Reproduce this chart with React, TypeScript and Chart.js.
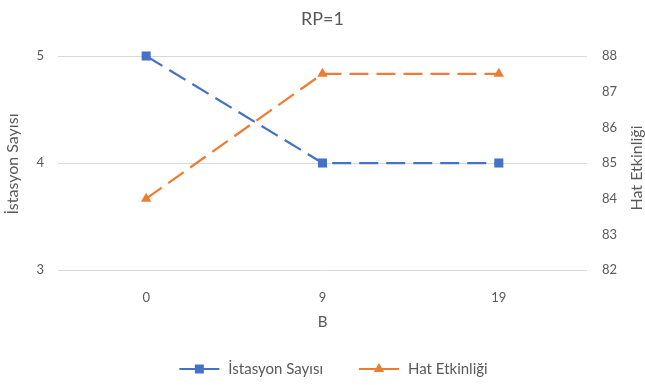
import { useEffect, useRef } from "react";
import { Chart, registerables } from "chart.js";

Chart.register(...registerables);

// Data
const categories = ["0", "9", "19"];
const stationCounts = [5, 4, 4];
const lineEfficiency = [84, 87.5, 87.5];

// Axis ranges
const leftRange = [3, 5];
const rightRange = [82, 88];

// Texts
const chartTitle = "RP=1";
const xTitle = "B";
const leftTitle = "İstasyon Sayısı";
const rightTitle = "Hat Etkinliği";
const seriesNames = ["İstasyon Sayısı", "Hat Etkinliği"];

const FONT = "Lato, 'Open Sans', sans-serif";
const TEXT = "#595959";
const BLUE = "#4472C4";
const ORANGE = "#ED7D31";

function drawMarker(ctx: CanvasRenderingContext2D, style: string, x: number, y: number, color: string) {
  ctx.fillStyle = color;
  ctx.beginPath();
  if (style === "rect") {
    ctx.rect(x - 4.5, y - 4.5, 9, 9);
  } else {
    const r = 6;
    ctx.moveTo(x, y - r);
    ctx.lineTo(x + r * 0.866, y + r * 0.5);
    ctx.lineTo(x - r * 0.866, y + r * 0.5);
    ctx.closePath();
  }
  ctx.fill();
}

const decorations = {
  id: "decorations",
  afterDraw(chart: any) {
    const ctx: CanvasRenderingContext2D = chart.ctx;
    const area = chart.chartArea;
    const midY = (area.top + area.bottom) / 2;
    ctx.save();
    ctx.fillStyle = TEXT;
    ctx.textAlign = "center";
    ctx.textBaseline = "middle";

    ctx.font = `18px ${FONT}`;
    ctx.fillText(chartTitle, chart.width / 2, 19);

    ctx.font = `15px ${FONT}`;
    ctx.fillText(xTitle, (area.left + area.right) / 2, 322);

    ctx.font = `16px ${FONT}`;
    ctx.save();
    ctx.translate(13, midY + 1);
    ctx.rotate(-Math.PI / 2);
    ctx.fillText(leftTitle, 0, 0);
    ctx.restore();

    ctx.save();
    ctx.translate(637, midY + 5);
    ctx.rotate(-Math.PI / 2);
    ctx.fillText(rightTitle, 0, 0);
    ctx.restore();

    // Legend
    ctx.font = `15px ${FONT}`;
    const lineLen = 40;
    const textGap = 9;
    const itemGap = 36;
    const datasets = chart.data.datasets;
    const widths = datasets.map((d: any) => lineLen + textGap + ctx.measureText(d.label).width);
    const total = widths.reduce((a: number, b: number) => a + b, 0) + itemGap * (datasets.length - 1);
    let x = chart.width / 2 - total / 2 + 11;
    const y = 369;
    datasets.forEach((d: any, i: number) => {
      ctx.strokeStyle = d.borderColor;
      ctx.lineWidth = 2;
      ctx.setLineDash([]);
      ctx.beginPath();
      ctx.moveTo(x, y);
      ctx.lineTo(x + lineLen, y);
      ctx.stroke();
      drawMarker(ctx, d.pointStyle, x + lineLen / 2, y, d.borderColor);
      ctx.fillStyle = TEXT;
      ctx.textAlign = "left";
      ctx.fillText(d.label, x + lineLen + textGap, y);
      x += widths[i] + itemGap;
    });
    ctx.restore();
  },
};

export default function App() {
  const canvasRef = useRef<HTMLCanvasElement | null>(null);

  useEffect(() => {
    if (!canvasRef.current) return;
    const chart = new Chart(canvasRef.current, {
      type: "line",
      data: {
        labels: categories,
        datasets: [
          {
            label: seriesNames[0],
            data: stationCounts,
            yAxisID: "y",
            borderColor: BLUE,
            backgroundColor: BLUE,
            borderWidth: 2.25,
            borderDash: [19, 8],
            pointStyle: "rect",
            pointRadius: 6.4,
            pointBorderWidth: 0,
            fill: false,
            clip: false,
          },
          {
            label: seriesNames[1],
            data: lineEfficiency,
            yAxisID: "y1",
            borderColor: ORANGE,
            backgroundColor: ORANGE,
            borderWidth: 2.25,
            borderDash: [19, 8],
            pointStyle: "triangle",
            pointRadius: 6,
            pointBorderWidth: 0,
            fill: false,
            clip: false,
          },
        ],
      },
      options: {
        responsive: false,
        animation: false,
        layout: { padding: { top: 56, left: 0, right: 0, bottom: 0 } },
        plugins: {
          legend: { display: false },
          title: { display: false },
          tooltip: { enabled: false },
        },
        scales: {
          x: {
            offset: true,
            grid: { display: false, drawTicks: false },
            border: { display: false },
            ticks: { color: TEXT, font: { family: FONT, size: 13 }, padding: 20 },
            afterFit: (s: any) => {
              s.height = 115;
            },
          },
          y: {
            position: "left",
            min: leftRange[0],
            max: leftRange[1],
            ticks: { stepSize: 1, color: TEXT, font: { family: FONT, size: 13 }, padding: 14 },
            grid: { color: "#d9d9d9", lineWidth: 1, drawTicks: false },
            border: { display: false },
            afterFit: (s: any) => {
              s.width = 58;
            },
          },
          y1: {
            position: "right",
            min: rightRange[0],
            max: rightRange[1],
            ticks: { stepSize: 1, color: TEXT, font: { family: FONT, size: 13 }, padding: 15 },
            grid: { display: false, drawTicks: false },
            border: { display: false },
            afterFit: (s: any) => {
              s.width = 58;
            },
          },
        },
      },
      plugins: [decorations],
    });
    return () => chart.destroy();
  }, []);

  return (
    <div style={{ position: "absolute", left: 0, top: 0, width: 645, height: 385, background: "#fff" }}>
      <canvas ref={canvasRef} width={645} height={385} style={{ display: "block" }} />
    </div>
  );
}
